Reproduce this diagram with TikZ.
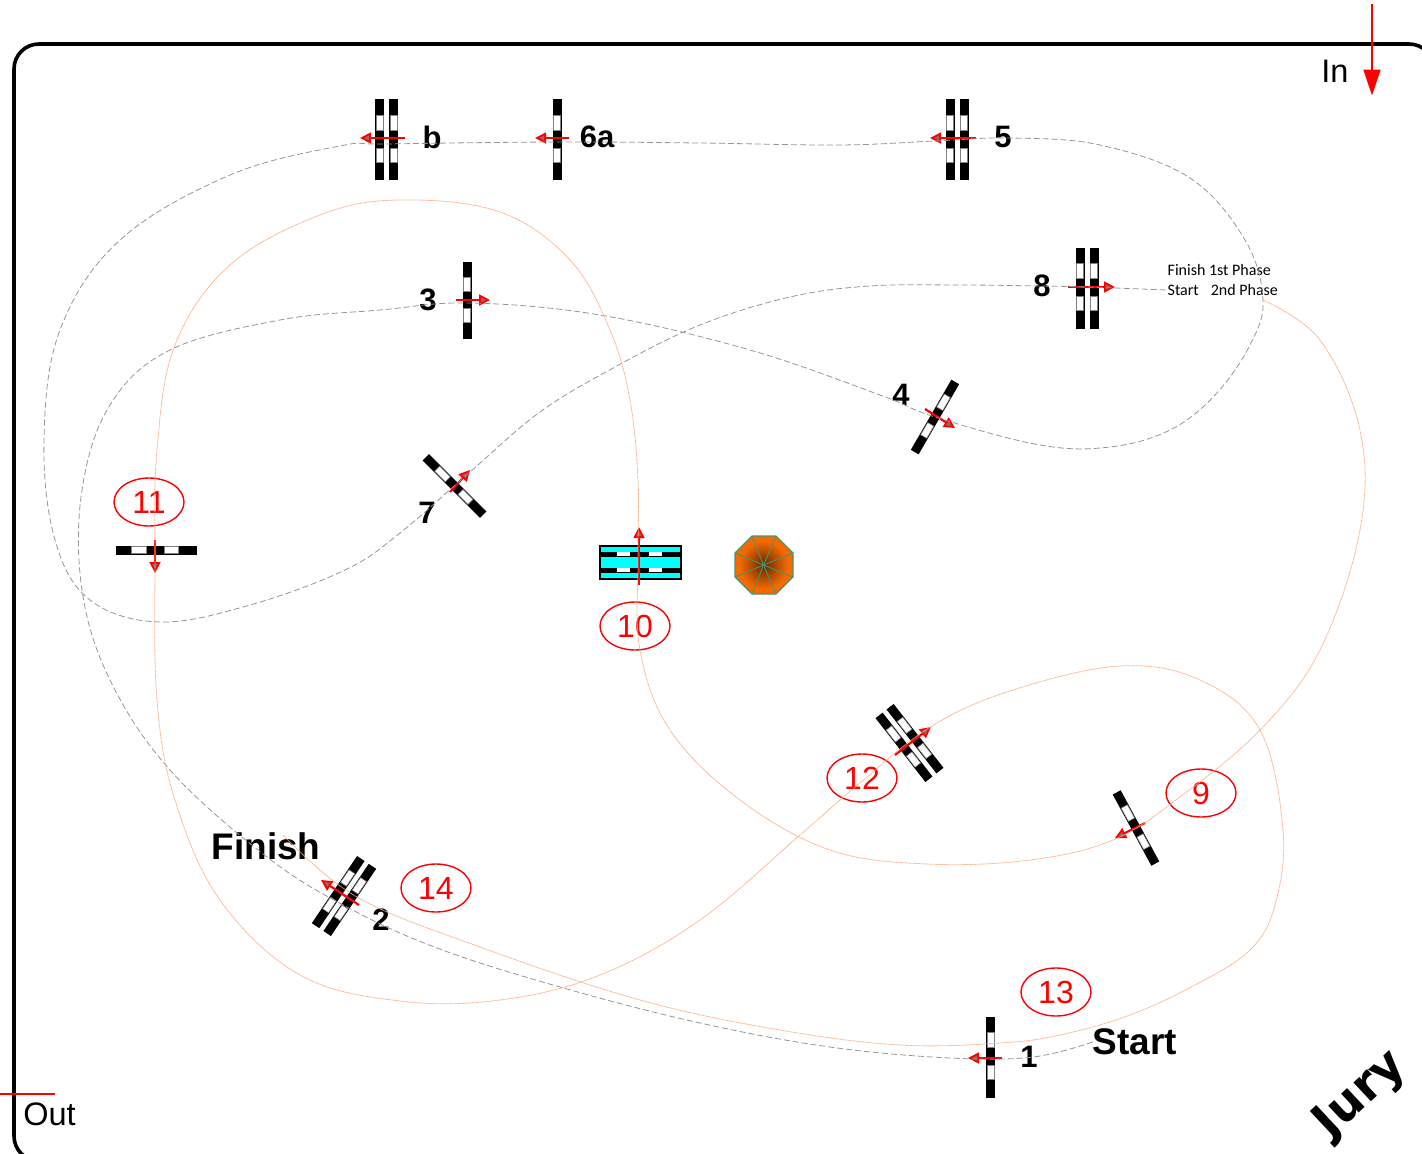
\documentclass[tikz,border=0pt]{standalone}
\usepackage{fontspec}
\setmainfont{Liberation Sans}
\newfontfamily\phasefont{Carlito}
\newfontfamily\juryfont{DejaVu Sans}
\usetikzlibrary{arrows.meta,shapes.geometric}
\definecolor{trackgray}{RGB}{150,150,150}
\definecolor{trackorange}{RGB}{250,175,135}
\definecolor{rimgreen}{RGB}{70,150,110}
\definecolor{oct}{RGB}{245,105,0}
\definecolor{octc}{RGB}{100,40,0}
\definecolor{aqua}{RGB}{0,255,255}
\newcommand{\barshape}[1]{%
  \fill[black] (#1-4.5,-40.5) rectangle (#1+4.5,40.5);
  \path[barwhite] (#1-3.5,-24.5) rectangle (#1+3.5,-9.5);
  \path[barwhite] (#1-3.5,8.5) rectangle (#1+3.5,22.5);
}
\tikzset{
  barwhite/.style={fill=white,draw=gray,line width=.6pt},
  pics/bar/.style={code={\barshape{0}}},
  pics/oxer/.style={code={\barshape{-7}\barshape{7}}},
  jump/.style={draw=red,line width=2.2pt,-{Triangle[length=11pt,width=11pt,fill=gray!80!red,line width=1.8pt]}},
  numring/.style={draw=red,line width=1.4pt,ellipse,minimum width=70pt,minimum height=48pt,inner sep=0pt,text=red,font=\fontsize{32}{32}\selectfont},
  num/.style={font=\bfseries\fontsize{31}{31}\selectfont,text=black,inner sep=0pt},
  biglabel/.style={font=\bfseries\fontsize{37}{37}\selectfont,text=black,inner sep=0pt},
  plain/.style={font=\fontsize{32.5}{32.5}\selectfont,text=black,inner sep=0pt},
  phase/.style={font=\phasefont\fontsize{16}{16}\selectfont,text=black,inner sep=0pt,anchor=west},
  graytrack/.style={draw=trackgray,line width=.8pt,dash pattern=on 6pt off 3pt},
  orangetrack/.style={draw=trackorange,line width=.8pt,dash pattern=on .8pt off .5pt},
}
\begin{document}
\begin{tikzpicture}[x=1pt,y=-1pt]
\useasboundingbox (0,0) rectangle (1422,1154);
\begin{scope}
\clip (0,0) rectangle (1422,1154);
\draw[black,line width=3.6pt,rounded corners=25pt] (14,44) rectangle (1434,1161);
\end{scope}

% fence positions
\coordinate (f1) at (990.5,1057);
\coordinate (f2) at (344,896);
\coordinate (f3) at (467,300.5);
\coordinate (f4) at (935,417);
\coordinate (f5) at (957,139.5);
\coordinate (f6a) at (557,139.5);
\coordinate (f6b) at (386.5,139.5);
\coordinate (f7) at (454.5,486);
\coordinate (f8) at (1087,288);
\coordinate (f9) at (1136,828);
\coordinate (f11) at (156,550);
\coordinate (f12) at (909.5,743);

% fences
\pic at (f1) {bar};
\pic[rotate=-34] at (f2) {oxer};
\pic[yscale=.95] at (f3) {bar};
\pic[rotate=-30] at (f4) {bar};
\pic at (f5) {oxer};
\pic at (f6a) {bar};
\pic at (f6b) {oxer};
\pic[rotate=45] at (f7) {bar};
\pic at (f8) {oxer};
\pic[rotate=28.5] at (f9) {bar};
\pic[rotate=90] at (f11) {bar};
\pic[rotate=38] at (f12) {oxer};

% water jump
\draw[black,line width=1.6pt,fill=aqua] (600,546) rectangle (681,579);
\fill[black] (600,551.5) rectangle (681,557);
\fill[black] (600,567.5) rectangle (681,573);
\foreach \xa in {617,649}{
  \fill[white] (\xa,552) rectangle (\xa+13,556);
  \fill[white] (\xa,568) rectangle (\xa+13,572);
}

% octagon
\coordinate (oc) at (763.5,565);
\fill[oct] (752,536)--(776,536)--(793,553)--(793,577)--(776,594)--(752,594)--(735,577)--(735,553)--cycle;
\begin{scope}
\clip (752,536)--(776,536)--(793,553)--(793,577)--(776,594)--(752,594)--(735,577)--(735,553)--cycle;
\shade[inner color=octc,outer color=oct] (oc) circle (24);
\end{scope}
\draw[rimgreen,line width=1.2pt,line join=round]
  (752,536)--(776,536)--(793,553)--(793,577)--(776,594)--(752,594)--(735,577)--(735,553)--cycle;
\foreach \p in {(752,536),(776,536),(793,553),(793,577),(776,594),(752,594),(735,577),(735,553)}
  \draw[rimgreen,line width=.9pt] (oc) -- \p;

% jump arrows
\draw[jump] (405,138) -- (360,138);
\draw[jump] (569,138) -- (535,138);
\draw[jump] (976,138) -- (930,138);
\draw[jump] (1068,287) -- (1115,287);
\draw[jump] (456,300) -- (490,300);
\draw[jump] (925,409) -- (955,428);
\draw[jump] (450,492) -- (470,470);
\draw[jump] (155,540) -- (155,573);
\draw[jump] (639,585) -- (639,527);
\draw[jump] (359,905) -- (321,880);
\draw[jump] (895,755) -- (931,727);
\draw[jump] (1145,823) -- (1115,838);
\draw[jump] (1002,1058) -- (968,1058);

% In / Out
\coordinate (intop) at (1372,4);
\coordinate (inend) at (1372,95.5);
\draw[red,line width=2pt,-{Triangle[length=26pt,width=17pt]}] (intop) -- (inend);
\coordinate (outa) at (0,1094);
\coordinate (outb) at (55,1094);
\draw[red,line width=1.2pt] (outa) -- (outb);
\node[plain] (inlbl) at (1335,71) {In};
\node[plain] (outlbl) at (49.5,1114) {Out};

% labels
\node[num] (lb) at (432,137) {b};
\node[num] (l6a) at (597,137) {6a};
\node[num] (l5) at (1003,137) {5};
\node[num] (l8) at (1042,286) {8};
\node[num] (l3) at (428,300) {3};
\node[num] (l4) at (901,395) {4};
\node[num] (l7) at (427,513) {7};
\node[num] (l2) at (381,920) {2};
\node[num] (l1) at (1029,1057) {1};
\node[biglabel] (startl) at (1135,1042) {Start};
\node[biglabel] (finishl) at (266,846) {Finish};
\node[phase] (ph1) at (1167.5,270) {Finish 1st Phase};
\node[phase] (ph2) at (1167.5,290) {Start\hspace{12pt}2nd Phase};
\node[rotate=43,text=black,inner sep=0pt,font=\juryfont\bfseries\fontsize{47}{47}\selectfont] (jury) at (1361,1095) {Jury};

% rings
\node[numring] (r11) at (149,502) {11};
\node[numring] (r10) at (635,626) {10};
\node[numring] (r12) at (862,778) {12};
\node[numring] (r14) at (436,888) {14};
\node[numring] (r13) at (1056,992) {13};
\node[numring] (r9) at (1201,793) {9};

% tracks
\coordinate (ostart) at (1263,300);
\coordinate (oend) at (283,835);
\draw[graytrack] plot[smooth,tension=.62] coordinates {
  (startl.west) (1033,1057) (950,1058) (830,1047) (700,1023) (560,987) (437,948) (347,907) (267,857)
  (170,770) (110,680) (82,590) (82,490) (110,405) (170,350) (280,320) (380,310) (470,303) (600,315) (750,350) (880,395) (f4)
  (1040,445) (1110,447) (1170,430) (1215,395) (1250,345) (1263,300) (1245,240) (1190,178) (1100,145) (1010,138)
  (935,141) (840,145) (700,143) (557,142) (387,144) (340,146) (230,175) (120,240) (60,330) (44,440) (55,540) (90,600)
  (160,622) (250,605) (345,570) (400,533) (470,472) (540,412) (615,367) (700,325) (790,297) (870,286) (960,285) (1040,286)
  (1087,287) (ph2.west)};
\draw[orangetrack] plot[smooth,tension=.62] coordinates {
  (ostart) (1320,340) (1360,430) (1360,530) (1320,650) (1260,730) (1180,797) (1113,840) (1030,860)
  (927,864) (830,850) (740,800) (670,730) (640,650) (638,560) (638,480) (630,400) (610,330) (570,260) (500,212)
  (400,200) (320,215) (230,265) (175,345) (157,450) (155,560) (157,700) (175,800) (220,900)
  (300,975) (400,1001) (500,1000) (600,975) (700,920) (800,835) (860,783) (932,726) (1013,690)
  (1120,666) (1200,680) (1260,730) (1283,830) (1275,905) (1250,950) (1195,985) (1130,1015) (1060,1035) (1000,1043) (900,1045)
  (780,1030) (640,1000) (480,947) (357,897) (oend)};
\end{tikzpicture}
\end{document}
